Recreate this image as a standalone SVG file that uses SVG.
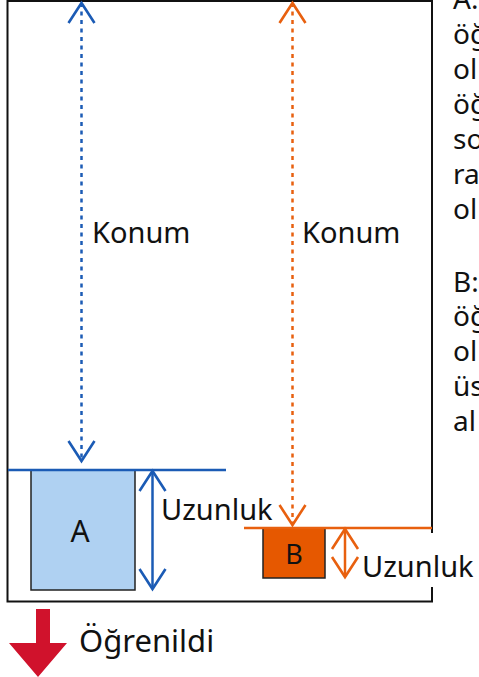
<svg xmlns="http://www.w3.org/2000/svg" width="479" height="677" viewBox="0 0 479 677">
  <style>
    .t { font-family: "Noto Sans", "Open Sans", "Liberation Sans", sans-serif; fill: #111; }
    .big { font-size: 29px; }
    .note { font-size: 28px; }
    .blue { stroke: #1B5BB5; fill: none; stroke-width: 2.5; }
    .orange { stroke: #E8600F; fill: none; stroke-width: 2.5; }
    .dot { stroke-dasharray: 4 4.5; }
  </style>
  <defs>
    <marker id="chB" viewBox="-22 -15 24 30" markerWidth="24" markerHeight="30" refX="0" refY="0" orient="auto-start-reverse" markerUnits="userSpaceOnUse" overflow="visible">
      <path d="M-20,-13 L0,0 L-20,13" fill="none" stroke="#1B5BB5" stroke-width="2.6"/>
    </marker>
    <marker id="chO" viewBox="-22 -15 24 30" markerWidth="24" markerHeight="30" refX="0" refY="0" orient="auto-start-reverse" markerUnits="userSpaceOnUse" overflow="visible">
      <path d="M-20,-13 L0,0 L-20,13" fill="none" stroke="#E8600F" stroke-width="2.6"/>
    </marker>
  </defs>
  <rect width="479" height="677" fill="#fff"/>

  <g id="frame">
    <rect x="7.5" y="1" width="424.5" height="600.5" fill="none" stroke="#111" stroke-width="2"/>
  </g>

  <g id="boxA">
    <rect x="31" y="470" width="104" height="120" fill="#AFD1F2" stroke="#222" stroke-width="1.5"/>
    <text class="t" x="80" y="542" text-anchor="middle" font-size="30">A</text>
  </g>

  <g id="boxB">
    <rect x="263" y="528" width="62" height="50" fill="#E65800" stroke="#222" stroke-width="1.5"/>
    <text class="t" x="294" y="564" text-anchor="middle" font-size="27">B</text>
  </g>

  <g id="connectors">
    <line class="blue" x1="8" y1="470" x2="226" y2="470"/>
    <line class="orange" x1="244" y1="528" x2="432" y2="528"/>
    <line class="blue dot" x1="81.5" y1="3" x2="81.5" y2="461" marker-start="url(#chB)" marker-end="url(#chB)"/>
    <line class="orange dot" x1="292.5" y1="3" x2="292.5" y2="525" marker-start="url(#chO)" marker-end="url(#chO)"/>
    <line class="blue" x1="152.5" y1="471" x2="152.5" y2="589" marker-start="url(#chB)" marker-end="url(#chB)"/>
    <line class="orange" x1="345" y1="529" x2="345" y2="577" marker-start="url(#chO)" marker-end="url(#chO)"/>
  </g>

  <g id="labels">
    <text class="t big" x="92" y="243">Konum</text>
    <text class="t big" x="302" y="243">Konum</text>
    <text class="t big" x="161" y="520">Uzunluk</text>
    <rect x="359" y="533" width="120" height="54" fill="#fff"/>
    <text class="t big" x="362" y="577">Uzunluk</text>
  </g>

  <g id="noteA">
    <text class="t note" x="453" y="8.5">A:</text>
    <text class="t note" x="453" y="43.5">öğ</text>
    <text class="t note" x="453" y="78.5">ol</text>
    <text class="t note" x="453" y="113.5">öğ</text>
    <text class="t note" x="453" y="148.5">so</text>
    <text class="t note" x="453" y="183.5">ra</text>
    <text class="t note" x="453" y="218.5">ol</text>
  </g>

  <g id="noteB">
    <text class="t note" x="453" y="292">B:</text>
    <text class="t note" x="453" y="326">öğ</text>
    <text class="t note" x="453" y="361">ol</text>
    <text class="t note" x="453" y="396">üs</text>
    <text class="t note" x="453" y="431">al</text>
  </g>

  <g id="learned">
    <path d="M36,609 L50,609 L50,643 L67,643 L38,677 L9,643 L36,643 Z" fill="#D0122C"/>
    <text class="t" x="79" y="652" font-size="31">Öğrenildi</text>
  </g>
</svg>
